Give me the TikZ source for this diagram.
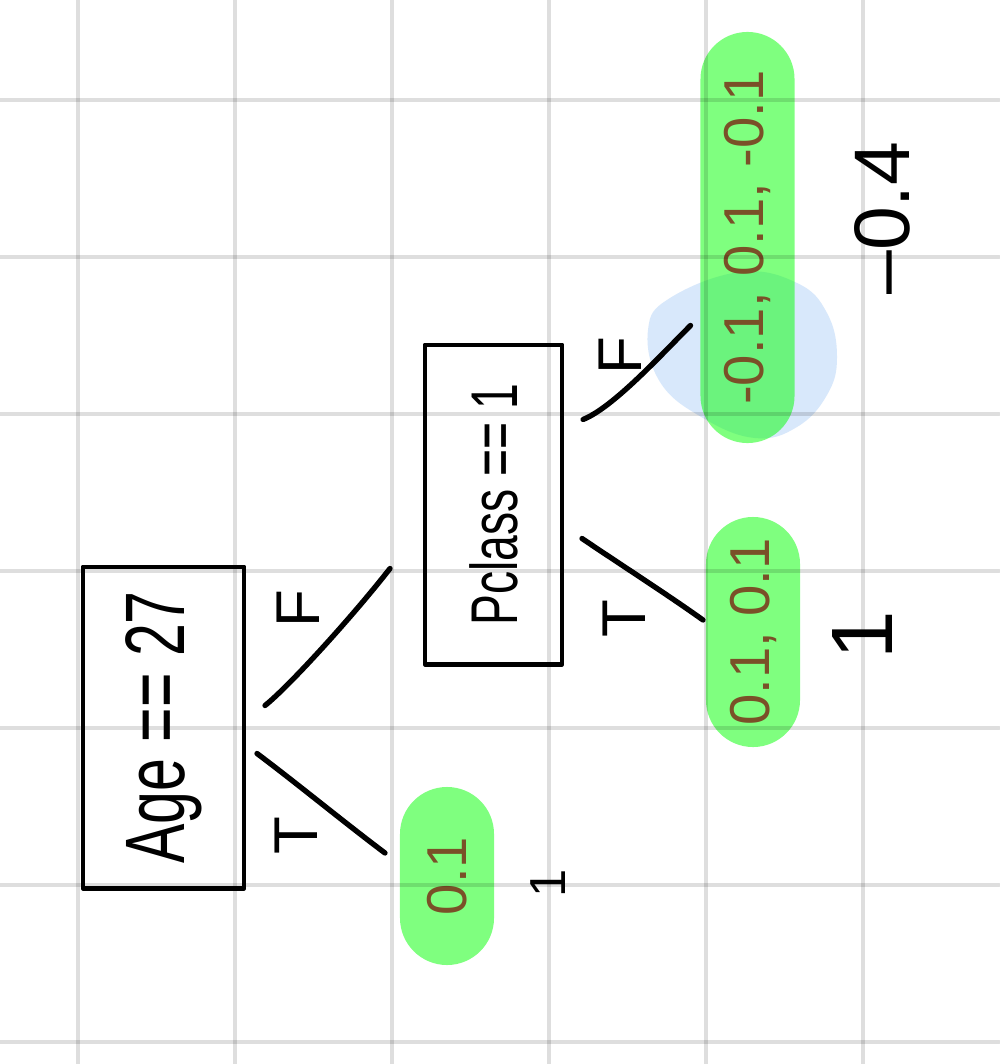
\documentclass[tikz,border=0pt]{standalone}
\usepackage{fontspec}
\setmainfont{Liberation Sans}
\usepackage{graphicx}
\usetikzlibrary{calc}

\definecolor{leafgreen}{RGB}{0,255,0}
\definecolor{blobblue}{RGB}{216,232,251}
\definecolor{leafbrown}{RGB}{122,80,40}

\begin{document}
\begin{tikzpicture}[
    x=0.025cm, y=-0.025cm,
    line cap=round, line join=round,
    every node/.style={inner sep=0pt, outer sep=0pt},
    split/.style={draw, line width=3.5pt, rotate=90},
    leaf/.style={fill=leafgreen, fill opacity=0.5, text opacity=1, text=leafbrown,
      rotate=90, minimum height=2.35cm, rounded corners=1.175cm,
      font=\fontsize{40}{40}\selectfont},
    branch/.style={rotate=90, font=\fontsize{44}{44}\selectfont},
    note/.style={rotate=90},
    edge/.style={line width=3.8pt},
    gridline/.style={line width=2.9pt, black, opacity=0.13}
  ]
    \fill[white] (0,0) rectangle (999,1064);
    \useasboundingbox (0,0) rectangle (999,1064);

    % highlight behind the left leaf
    \fill[blobblue] plot[smooth cycle, tension=0.7] coordinates {(648,330) (670,298) (740,272) (797,283) (827,313) (837,357) (827,395) (797,427) (755,438) (703,418) (660,382)};

    % leaves
    \node[leaf, minimum width=4.45cm] (leafa) at (447,876) {0.1};
    \node[leaf, minimum width=5.75cm] (leafb) at (753,632) {0.1, 0.1};
    \node[leaf, minimum width=10.275cm] (leafc) at (747.5,237.5) {-0.1, 0.1, -0.1};

    % splits
    \node[split, minimum width=8.025cm, minimum height=4.025cm, font=\fontsize{60}{60}\selectfont] (age) at (163.5,727.5) {\scalebox{0.7}[1]{Age == 27}};
    \node[split, minimum width=7.975cm, minimum height=3.425cm, font=\fontsize{47}{47}\selectfont] (pclass) at (493.5,504.5) {\scalebox{0.7}[1]{Pclass == 1}};

    \draw[edge] ($(age.south)+(21,-22)$) .. controls +(25,-20) and +(-35,45) .. ($(pclass.north)+(-35,64)$);
    \draw[edge] ($(age.south)+(13,26)$) .. controls +(40,30) and +(-40,-30) .. ($(leafa.center)+(-62,-23)$);
    \draw[edge] ($(pclass.south)+(21,-85)$) .. controls +(30,-12) and +(-30,30) .. ($(leafc.center)+(-57,88)$);
    \draw[edge] ($(pclass.south)+(20,34)$) .. controls +(40,27) and +(-35,-25) .. ($(leafb.center)+(-50,-12)$);

    \node[branch] (fa) at (298,609) {F};
    \node[branch] (ta) at (296,836) {T};
    \node[branch] (fb) at (620,356) {F};
    \node[branch] (tb) at (624,619) {T};

    \node[note, font=\fontsize{56}{56}\selectfont] (gain) at (882,218) {–0.4};
    \node[note, font=\fontsize{62}{62}\selectfont] (noteb) at (862,635) {1};
    \node[note, font=\fontsize{36}{36}\selectfont] (notea) at (548,883) {1};

    % paper grid
    \foreach \gx in {78,235,392,549,706,863}
      \draw[gridline] (\gx,0) -- (\gx,1064);
    \foreach \gy in {100,257,414,571,728,885,1042}
      \draw[gridline] (0,\gy) -- (999,\gy);
\end{tikzpicture}
\end{document}
